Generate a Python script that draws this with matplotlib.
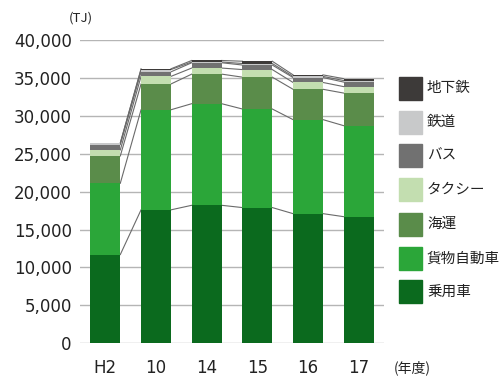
import matplotlib
matplotlib.use("Agg")
import matplotlib.pyplot as plt
from matplotlib.patches import Rectangle
import numpy as np

plt.rcParams['font.family'] = ['Noto Sans CJK JP', 'DejaVu Sans']

# fiscal years (heisei)
years = ["H2", "10", "14", "15", "16", "17"]

# energy use by mode, TJ (bottom to top of each stack)
car = [11700, 17600, 18200, 17900, 17100, 16700]
truck = [9400, 13200, 13400, 13000, 12400, 12000]
ship = [3600, 3400, 3900, 4200, 4000, 4300]
taxi = [800, 1000, 800, 1000, 900, 850]
bus = [700, 600, 700, 600, 650, 600]
rail = [200, 300, 100, 200, 150, 200]
subway = [0, 100, 200, 300, 200, 250]

names = ["乗用車", "貨物自動車", "海運", "タクシー", "バス", "鉄道", "地下鉄"]
colors = ["#0b6a1e", "#2ba639", "#5a8c4a", "#c3deb0", "#717171", "#c8c9ca", "#3d3a39"]
yticks = [0, 5000, 10000, 15000, 20000, 25000, 30000, 35000, 40000]

W, H = 502, 376
fig = plt.figure(figsize=(W/100, H/100), dpi=100)
ax = fig.add_axes([80/W, 1-343.3/H, 304/W, 303.3/H])

x = np.arange(len(years))
w = 0.59
bottom = np.zeros(len(years))
for vals, name, col in zip([car, truck, ship, taxi, bus, rail, subway], names, colors):
    v = np.array(vals, dtype=float)
    ax.bar(x, v, w, bottom=bottom, color=col, label=name, zorder=3)
    bottom = bottom + v
    # connector lines between tops of neighbouring bars
    for i in range(len(years) - 1):
        ax.plot([x[i] + w/2, x[i+1] - w/2], [bottom[i], bottom[i+1]],
                color="#6a6a6a", lw=0.8, zorder=2)

ax.set_xlim(-0.5, len(years) - 0.5)
ax.set_ylim(0, 40000)
ax.set_yticks(yticks)
ax.set_yticklabels([f"{t:,}" for t in yticks], family="DejaVu Sans")
ax.set_xticks(x)
ax.set_xticklabels(years, family="DejaVu Sans")
ax.tick_params(axis='y', length=0, pad=6, labelsize=12, labelcolor="#222222")
ax.tick_params(axis='x', length=0, pad=11, labelsize=12, labelcolor="#222222")
ax.yaxis.grid(True, color="#b5b5b5", lw=1.0, zorder=0)
for s in ax.spines.values():
    s.set_visible(False)

fig.text(81/W, 1-18/H, "(TJ)", fontsize=9.5, ha='center', va='center', color="#222222")
fig.text(412/W, 1-368/H, "(年度)", fontsize=10, ha='center', va='center', color="#222222")

# legend, top entry first
row_y = [88.3, 122.3, 155.7, 189.3, 224.3, 258.3, 291.7]
for yy, name, col in zip(row_y, names[::-1], colors[::-1]):
    fig.add_artist(Rectangle((399/W, 1-(yy+11.5)/H), 23/W, 23/H,
                             transform=fig.transFigure, color=col))
    fig.text(427/W, 1-yy/H, name, fontsize=10.5, ha='left', va='center',
             color="#222222")

fig.savefig("out.png", dpi=100)
